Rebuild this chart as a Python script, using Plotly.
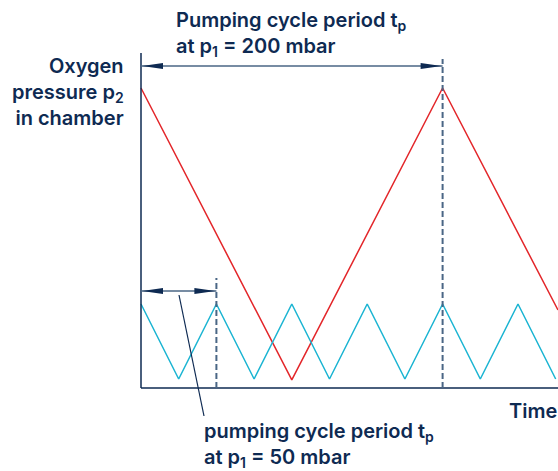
import plotly.graph_objects as go

# ---- data ----
red_t = [0, 2, 4, 5.53]
red_p = [10, 0.27, 10, 2.6]
cyan_t = [0, 0.5, 1, 1.5, 2, 2.5, 3, 3.5, 4, 4.5, 5, 5.5]
cyan_p = [2.8, 0.3, 2.8, 0.3, 2.8, 0.3, 2.8, 0.3, 2.8, 0.3, 2.8, 0.3]
period_50 = 1      # pumping cycle period at 50 mbar
period_200 = 4     # pumping cycle period at 200 mbar

W, H = 558, 471
X0PX, Y0PX = 141, 388
KX, KY = 75.4, 30.0

def px2t(px):
    return (px - X0PX) / KX

def py2p(py):
    return (Y0PX - py) / KY

NAVY = "#0e2a52"
RED = "#e3262a"
CYAN = "#1ab4d2"
SLATE = "#4a6685"
FONT = "Inter"

fig = go.Figure()
fig.add_trace(go.Scatter(x=red_t, y=red_p, mode="lines",
                         line=dict(color=RED, width=1.5), hoverinfo="skip"))
fig.add_trace(go.Scatter(x=cyan_t, y=cyan_p, mode="lines",
                         line=dict(color=CYAN, width=1.5), hoverinfo="skip"))

shapes = []
# axes
shapes.append(dict(type="line", x0=0, x1=px2t(W), y0=0, y1=0,
                   line=dict(color=NAVY, width=1.5)))
shapes.append(dict(type="line", x0=0, x1=0, y0=0, y1=py2p(53),
                   line=dict(color=NAVY, width=1.5)))
# dashed period markers
shapes.append(dict(type="line", x0=period_50, x1=period_50, y0=0, y1=py2p(278),
                   line=dict(color=SLATE, width=2, dash="6px,3px")))
shapes.append(dict(type="line", x0=period_200, x1=period_200, y0=0, y1=py2p(59),
                   line=dict(color=SLATE, width=2, dash="6px,3px")))

# double arrows
def double_arrow(t1, p):
    shapes.append(dict(type="line", x0=0, x1=t1, y0=p, y1=p,
                       line=dict(color=SLATE, width=1.5)))
    shapes.append(dict(type="path", xsizemode="pixel", ysizemode="pixel",
                       xanchor=0, yanchor=p, path="M1,0 L22,-3 L22,3 Z",
                       fillcolor=NAVY, line=dict(width=0)))
    shapes.append(dict(type="path", xsizemode="pixel", ysizemode="pixel",
                       xanchor=t1, yanchor=p, path="M-1,0 L-22,-3 L-22,3 Z",
                       fillcolor=NAVY, line=dict(width=0)))

double_arrow(period_200, py2p(66))
double_arrow(period_50, py2p(291))

# leader line
shapes.append(dict(type="line", x0=px2t(179), y0=py2p(295), x1=px2t(204), y1=py2p(416),
                   line=dict(color=NAVY, width=1.2)))

ann = []
def text(s, px, py, xanchor, align):
    ann.append(dict(text=s, x=px / W, y=1 - py / H, xref="paper", yref="paper",
                    xanchor=xanchor, yanchor="middle", align=align, showarrow=False,
                    font=dict(family=FONT, size=20, color=NAVY, weight=600)))

text("Pumping cycle period t<sub>p</sub><br>at p<sub>1</sub> = 200 mbar", 174, 34, "left", "left")
text("Oxygen<br>pressure p<sub>2</sub><br>in chamber", 126, 92, "right", "right")
text("pumping cycle period t<sub>p</sub><br>at p<sub>1</sub> = 50 mbar", 202, 445, "left", "left")
text("Time", 559, 411, "right", "right")

fig.update_layout(
    width=W, height=H, margin=dict(l=0, r=0, t=0, b=0),
    paper_bgcolor="white", plot_bgcolor="white", showlegend=False,
    xaxis=dict(range=[px2t(0), px2t(W)], visible=False, fixedrange=True),
    yaxis=dict(range=[py2p(H), py2p(0)], visible=False, fixedrange=True),
    shapes=shapes, annotations=ann,
)
fig.write_html("out.html", config={"displayModeBar": False},
               post_script="document.body.style.margin='0';")
